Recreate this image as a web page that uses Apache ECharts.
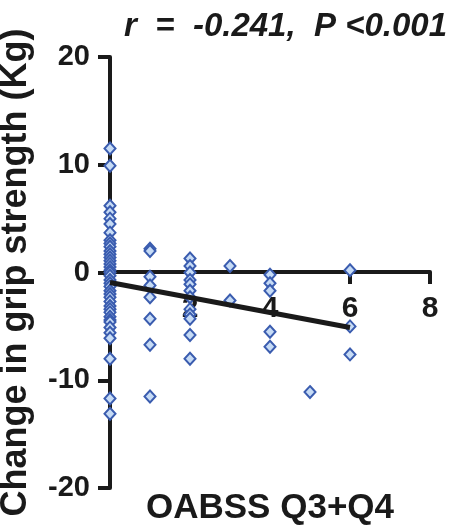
<!DOCTYPE html>
<html>
<head>
<meta charset="utf-8">
<style>
  html, body { margin: 0; padding: 0; background: #fff; }
  #chart { width: 450px; height: 525px; }
</style>
<script src="https://cdn.jsdelivr.net/npm/echarts@6/dist/echarts.min.js"></script>
</head>
<body>
<div id="chart"></div>
<script>
// change in grip strength (Kg) per OABSS Q3+Q4 score
var scores = [0, 1, 2, 3, 4, 5, 6];
var changeAt0 = [11.5, 9.9, 6.2, 5.6, 5.0, 4.5, 3.7, 3.0, 2.7, 2.4, 2.0, 1.7, 1.4, 1.1, 0.8, 0.5, 0.2, 0,
    -0.3, -0.7, -1.0, -1.3, -1.7, -2.0, -2.3, -2.7, -3.1, -3.4, -3.7, -4.1, -4.4, -4.6, -5.1, -5.6, -6.1,
    -8.0, -11.7, -13.1];
var changeAt1 = [2.2, 2.0, -0.4, -1.2, -2.3, -4.3, -6.7, -11.5];
var changeAt2 = [1.3, 0.6, 0, -0.7, -1.1, -1.7, -2.3, -3.4, -3.9, -4.3, -5.8, -8.0];
var changeAt3 = [0.6, -2.6];
var changeAt4 = [-0.2, -1.0, -1.7, -5.5, -6.9];
var changeAt5 = [-11.1];
var changeAt6 = [0.2, -5.0, -7.6];
var fitX = [0, 6];
var fitY = [-0.93, -5.1];
var yTicks = [-20, -10, 0, 10, 20];
var xTicks = [0, 2, 4, 6, 8];

var groups = [changeAt0, changeAt1, changeAt2, changeAt3, changeAt4, changeAt5, changeAt6];
var points = [];
scores.forEach(function (s, i) {
    groups[i].forEach(function (v) { points.push([s, v]); });
});

var font = 'Arial, "Liberation Sans", Helvetica, sans-serif';
var ink = '#1a1a1a';

var chart = echarts.init(document.getElementById('chart'));
chart.setOption({
    animation: false,
    title: {
        text: 'r  =  -0.241,  P <0.001',
        right: -2,
        top: 5,
        textStyle: {
            fontFamily: font,
            fontSize: 33,
            fontWeight: 'bold',
            fontStyle: 'italic',
            color: ink
        }
    },
    grid: {
        left: 110,
        right: 20,
        top: 57,
        bottom: 37,
        outerBoundsMode: 'none'
    },
    xAxis: {
        type: 'value',
        min: xTicks[0],
        max: xTicks[xTicks.length - 1],
        interval: 2,
        // axis sits on y = 0 (grid height 431px, zero at mid)
        offset: -216,
        name: 'OABSS Q3+Q4',
        nameLocation: 'middle',
        nameGap: 219,
        nameTextStyle: {
            fontFamily: font,
            fontSize: 35,
            fontWeight: 'bold',
            color: ink
        },
        splitLine: { show: false },
        axisLine: {
            onZero: false,
            lineStyle: { color: ink, width: 4 }
        },
        axisTick: {
            length: 12,
            lineStyle: { color: ink, width: 4 }
        },
        axisLabel: {
            margin: 22,
            fontFamily: font,
            fontSize: 30,
            fontWeight: 'bold',
            color: ink,
            formatter: function (v) { return v === 0 ? '' : String(v); }
        }
    },
    yAxis: {
        type: 'value',
        min: yTicks[0],
        max: yTicks[yTicks.length - 1],
        interval: 10,
        name: 'Change in grip strength (Kg)',
        nameLocation: 'middle',
        nameGap: 76,
        nameTextStyle: {
            fontFamily: font,
            fontSize: 36,
            fontWeight: 'bold',
            color: ink
        },
        splitLine: { show: false },
        axisLine: {
            lineStyle: { color: ink, width: 4 }
        },
        axisTick: {
            length: 12,
            lineStyle: { color: ink, width: 4 }
        },
        axisLabel: {
            margin: 20,
            fontFamily: font,
            fontSize: 29,
            fontWeight: 'bold',
            color: ink
        }
    },
    series: [
        {
            type: 'scatter',
            data: points,
            symbol: 'diamond',
            symbolSize: [11, 12],
            itemStyle: {
                color: '#c6dbf5',
                borderColor: '#3a5caf',
                borderWidth: 2,
                opacity: 1
            },
            z: 3
        },
        {
            type: 'line',
            data: fitX.map(function (x, i) { return [x, fitY[i]]; }),
            symbol: 'none',
            lineStyle: { color: ink, width: 5 },
            z: 4
        }
    ]
});
</script>
</body>
</html>
